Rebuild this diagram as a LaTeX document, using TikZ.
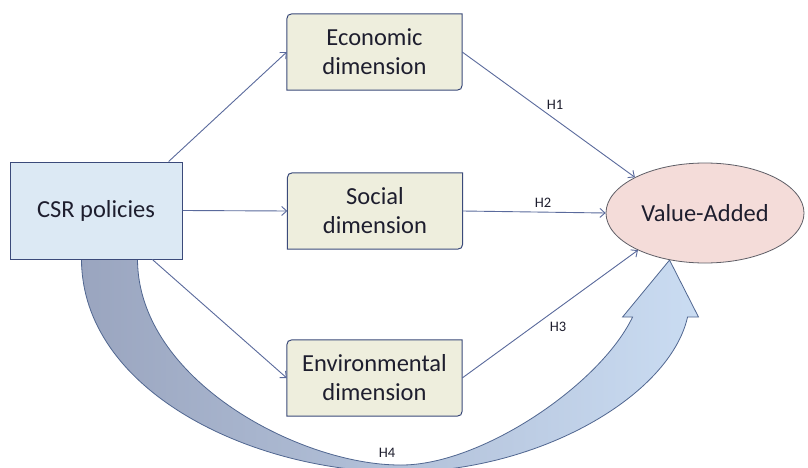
\documentclass[tikz,border=0pt]{standalone}
\usepackage{fontspec}
\setmainfont{Carlito}
\usetikzlibrary{arrows.meta,calc,backgrounds,shapes.geometric}
\definecolor{linec}{HTML}{5A6A9C}
\definecolor{boxline}{HTML}{3B4A7A}
\definecolor{csrfill}{HTML}{DCE9F4}
\definecolor{dimfill}{HTML}{EEEEDD}
\definecolor{vafill}{HTML}{F4DCD9}
\definecolor{valine}{HTML}{5E5E66}
\definecolor{txt}{HTML}{1E1E2E}
\definecolor{arrdark}{HTML}{9AA5BF}
\definecolor{arrlight}{HTML}{CADCF2}
\definecolor{arredge}{HTML}{506690}
\newcommand\dimbox[1]{%
  \path[dimshape] (#1.south west) -- ($(#1.north west)+(0,11)$)
    .. controls (#1.north west) .. ($(#1.north west)+(11,0)$)
    -- (#1.north east) -- ($(#1.south east)+(0,-11)$)
    .. controls (#1.south east) .. ($(#1.south east)+(-11,0)$) -- cycle;}
\begin{document}
\begin{tikzpicture}[x=1pt,y=-1pt,
  every node/.style={text=txt},
  mainfont/.style={font=\fontsize{24.5}{29}\selectfont},
  csrbox/.style={draw=boxline, line width=1pt, fill=csrfill, minimum width=172pt, minimum height=97pt, inner sep=0pt, mainfont},
  dimnode/.style={minimum width=175pt, minimum height=76pt, inner sep=0pt, align=center, mainfont},
  dimshape/.style={draw=boxline, line width=1pt, fill=dimfill},
  vanode/.style={ellipse, draw=valine, line width=0.8pt, fill=vafill, minimum width=198pt, minimum height=100pt, inner sep=0pt, mainfont},
  conn/.style={draw=linec, line width=0.9pt, -{Straight Barb[length=5pt,width=9pt]}},
  hlab/.style={font=\fontsize{14.5}{16}\selectfont},
  bigarrow/.style={draw=arredge, line width=0.8pt, left color=arrdark, right color=arrlight}
]
\useasboundingbox (0,0) rectangle (808,468);

\node[csrbox] (csr) at (96,210.5) {CSR policies};
\node[dimnode] (econ) at (374.5,52) {Economic\\dimension};
\node[dimnode] (soc) at (375,211) {Social\\dimension};
\node[dimnode] (env) at (374.5,378) {Environmental\\dimension};
\node[vanode] (va) at (705,213) {Value-Added};

\node[hlab] (h1) at (555,105) {H1};
\node[hlab] (h2) at (543,203) {H2};
\node[hlab] (h3) at (558,327) {H3};
\node[hlab] (h4) at (387,453) {H4};

\draw[conn] (csr.34) -- (econ.west);
\draw[conn] (csr.east) -- (soc.west);
\draw[conn] (csr.-41) -- (env.west);
\draw[conn] (econ.east) -- (va.153);
\draw[conn] (soc.east) -- (va.west);
\draw[conn] (env.east) -- (va.209);

\begin{scope}[on background layer]
\fill[white] (0,0) rectangle (808,468);
\coordinate (tip) at (va.233);
\path[bigarrow] ($(csr.south west)+(72,-12)$) -- ($(csr.south west)+(72,0)$)
  .. controls (82,390) and (250,472) .. (400,472)
  .. controls (540,472) and (670,395) .. ($(tip)+(18,57)$)
  -- ($(tip)+(29,57)$) -- (tip) -- ($(tip)+(-47,57)$) -- ($(tip)+(-37,57)$)
  .. controls (600,385) and (480,466) .. (400,465)
  .. controls (300,465) and (138,380) .. ($(csr.south west)+(128,0)$)
  -- ($(csr.south west)+(128,-12)$) -- cycle;
\dimbox{econ}
\dimbox{soc}
\dimbox{env}
\end{scope}
\end{tikzpicture}
\end{document}
